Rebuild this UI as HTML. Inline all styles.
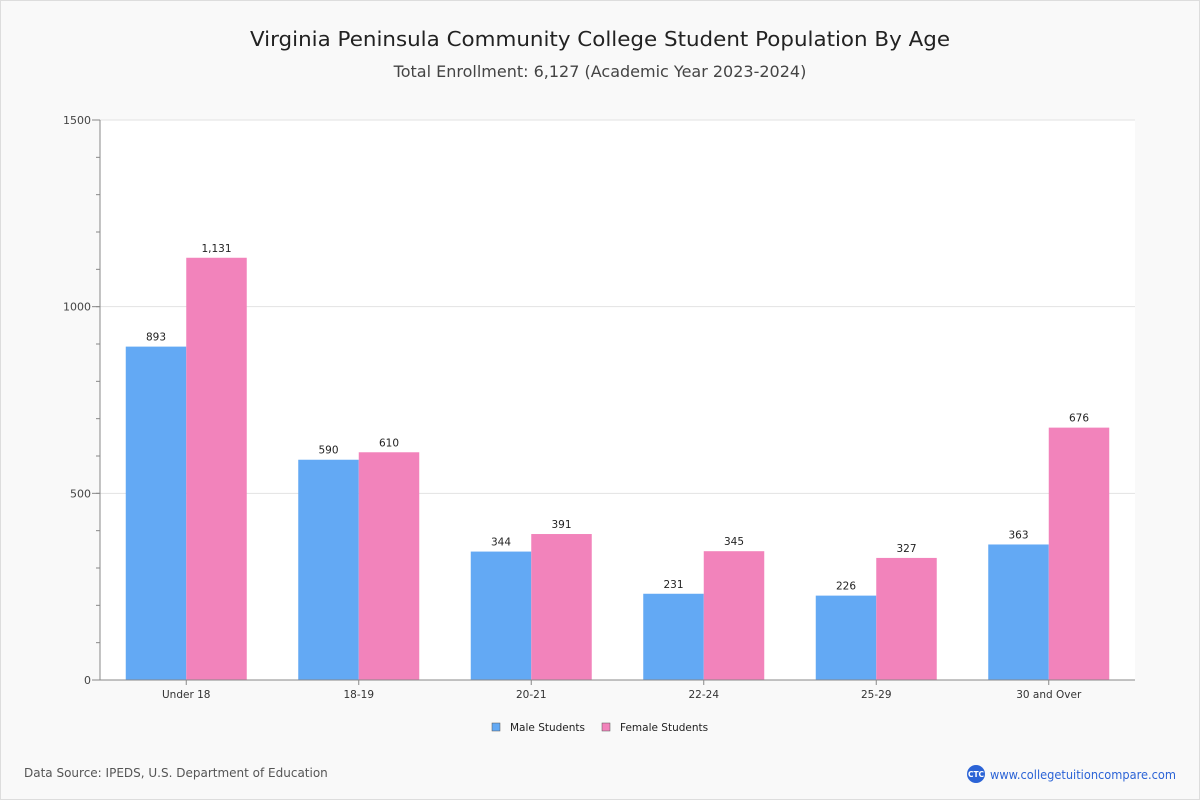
<!DOCTYPE html>
<html><head><meta charset="utf-8"><style>
body{margin:0;background:#fff;font-family:"DejaVu Sans","Liberation Sans",sans-serif}
#wrap{position:relative;width:1198px;height:798px;border:1px solid #ddd;background:#f9f9f9}
</style></head><body>
<div id="wrap">
<svg id="chart" width="1198" height="798" style="position:absolute;left:0;top:0"></svg>
</div>
<script>
const categories=["Under 18","18-19","20-21","22-24","25-29","30 and Over"];
const maleValues=[893,590,344,231,226,363];
const femaleValues=[1131,610,391,345,327,676];
const yTicks=[0,500,1000,1500];
const NS="http://www.w3.org/2000/svg";
const svg=document.getElementById('chart');
const X0=99,X1=1134,Y0=679,Y1=119,YMAX=1500;
const y=v=>Y0-(v/YMAX)*(Y0-Y1);
const gw=(X1-X0)/categories.length;
const xc=i=>X0+gw*(i+0.5);
function mk(t,a,txt){const e=document.createElementNS(NS,t);for(const k in a)e.setAttribute(k,a[k]);if(txt!=null)e.textContent=txt;svg.appendChild(e);return e;}
let e;
e=mk('text',{x:599,y:45,'text-anchor':'middle','font-size':20.5,fill:'#222',textLength:700,lengthAdjust:'spacingAndGlyphs'},'Virginia Peninsula Community College Student Population By Age');


e=mk('text',{x:599,y:76,'text-anchor':'middle','font-size':16,fill:'#444'},'Total Enrollment: 6,127 (Academic Year 2023-2024)');


e=mk('rect',{x:X0,y:Y1,width:X1-X0,height:Y0-Y1,fill:'#fff'});


for(let v=0;v<=YMAX;v+=100){
  const yy=y(v);
  e=mk('line',{x1:X0-4,x2:X0,y1:yy,y2:yy,stroke:'#888'});
  
  
}
yTicks.forEach(v=>{
  const yy=y(v);
  if(v>0){e=mk('line',{x1:X0,x2:X1,y1:yy,y2:yy,stroke:'#e2e2e2'});
  
  }
  e=mk('line',{x1:X0-8,x2:X0,y1:yy,y2:yy,stroke:'#888'});
  
  
  e=mk('text',{x:X0-9,y:yy+4,'text-anchor':'end','font-size':11,fill:'#444'},String(v));
  
  
});
const bw=60.5;
categories.forEach((c,i)=>{
  const cx=xc(i);
  [[maleValues[i],'#63a9f4',cx-bw,'male'],[femaleValues[i],'#f283bb',cx,'female']].forEach(([v,col,bx,s])=>{
    e=mk('rect',{x:bx,y:y(v),width:bw,height:Y0-y(v),fill:col});
    
    
    e=mk('text',{x:bx+bw/2,y:y(v)-6,'text-anchor':'middle','font-size':10.5,fill:'#222'},v.toLocaleString('en-US'));
    
    
  });
  e=mk('line',{x1:cx,x2:cx,y1:Y0,y2:Y0+5,stroke:'#888'});
  
  
  e=mk('text',{x:cx,y:Y0+18,'text-anchor':'middle','font-size':10.5,fill:'#333'},c);
  
  
});
e=mk('line',{x1:X0,x2:X0,y1:Y1,y2:Y0,stroke:'#888'});


e=mk('line',{x1:X0,x2:X1,y1:Y0,y2:Y0,stroke:'#888'});


[['Male Students','#63a9f4',491],['Female Students','#f283bb',601]].forEach(([t,c,lx])=>{
  e=mk('rect',{x:lx,y:722,width:8,height:8,fill:c,stroke:'#555','stroke-width':0.5});
  
  
  e=mk('text',{x:lx+18,y:730,'font-size':10.5,fill:'#222'},t);
  
  
});
e=mk('text',{x:23,y:776,'font-size':12,fill:'#555'},'Data Source: IPEDS, U.S. Department of Education');


e=mk('circle',{cx:975,cy:773,r:9,fill:'#2b63d6'});


e=mk('text',{x:975,y:776,'text-anchor':'middle','font-size':7.5,fill:'#fff','font-weight':'bold'},'CTC');


e=mk('text',{x:989,y:778,'font-size':12,fill:'#2b63d6',textLength:186,lengthAdjust:'spacingAndGlyphs'},'www.collegetuitioncompare.com');


</script>
</body></html>
